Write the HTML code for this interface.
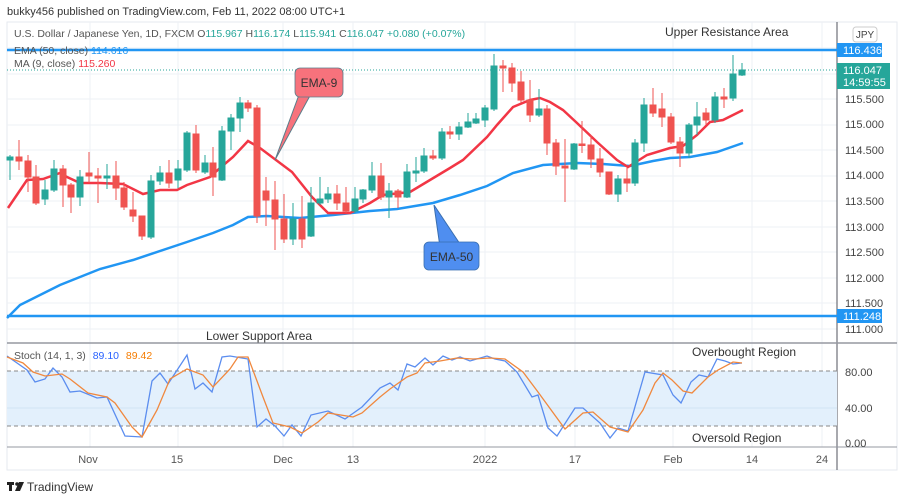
<!DOCTYPE html>
<html><head><meta charset="utf-8"><style>
html,body{margin:0;padding:0;background:#fff;width:900px;height:500px;overflow:hidden}
svg{display:block;font-family:"Liberation Sans",sans-serif}
</style></head><body>
<svg width="900" height="500" viewBox="0 0 900 500" xmlns="http://www.w3.org/2000/svg">
<rect width="900" height="500" fill="#fff"/>
<text x="7" y="15" font-size="11" fill="#333">bukky456 published on TradingView.com, Feb 11, 2022 08:00 UTC+1</text>
<rect x="7" y="22" width="890" height="448" fill="none" stroke="#e6e9ef"/>
<g stroke="#eef1f6" stroke-width="1">
<line x1="7" x2="837" y1="48" y2="48"/><line x1="7" x2="837" y1="74" y2="74"/><line x1="7" x2="837" y1="99" y2="99"/><line x1="7" x2="837" y1="125" y2="125"/><line x1="7" x2="837" y1="150" y2="150"/><line x1="7" x2="837" y1="176" y2="176"/><line x1="7" x2="837" y1="201" y2="201"/><line x1="7" x2="837" y1="227" y2="227"/><line x1="7" x2="837" y1="252" y2="252"/><line x1="7" x2="837" y1="278" y2="278"/><line x1="7" x2="837" y1="303" y2="303"/><line x1="7" x2="837" y1="329" y2="329"/>
<line x1="90" x2="90" y1="22" y2="447"/><line x1="178" x2="178" y1="22" y2="447"/><line x1="283" x2="283" y1="22" y2="447"/><line x1="353" x2="353" y1="22" y2="447"/><line x1="485" x2="485" y1="22" y2="447"/><line x1="575" x2="575" y1="22" y2="447"/><line x1="673" x2="673" y1="22" y2="447"/><line x1="752" x2="752" y1="22" y2="447"/><line x1="822" x2="822" y1="22" y2="447"/>
</g>
<line x1="837" x2="837" y1="22" y2="470" stroke="#50535e" stroke-width="1"/>
<line x1="7" x2="897" y1="343" y2="343" stroke="#9598a1" stroke-width="1.5"/>
<line x1="7" x2="897" y1="447" y2="447" stroke="#9598a1" stroke-width="1"/>
<rect x="7" y="371" width="830" height="55" fill="#e3f0fc"/>
<line x1="7" x2="837" y1="408" y2="408" stroke="#d0e3f5"/>
<line x1="7" x2="837" y1="371" y2="371" stroke="#888" stroke-dasharray="4,3"/>
<line x1="7" x2="837" y1="426" y2="426" stroke="#888" stroke-dasharray="4,3"/>
<line x1="7" x2="837" y1="70" y2="70" stroke="#26a69a" stroke-dasharray="1,2"/>
<line x1="7" x2="837" y1="50" y2="50" stroke="#2196f3" stroke-width="2.5"/>
<line x1="7" x2="837" y1="316" y2="316" stroke="#2196f3" stroke-width="2.5"/>
<polyline fill="none" stroke="#2196f3" stroke-width="2.5" points="7,318 20,305 60,285 100,269 133,260 187,242 213,233 233,225 248,217 267,216 300,218 333,215 370,211 397,209 433,203 460,195 487,186 513,173 543,165 577,163 603,164 630,166 653,161 670,158 690,157 717,152 743,143"/>
<polyline fill="none" stroke="#f23645" stroke-width="2.5" points="8,208 27,180 43,179 60,173 67,177 80,183 100,183 123,184 143,194 160,190 177,190 187,185 210,177 220,168 233,157 248,141 260,148 292,172 312,197 328,213 350,213 370,203 383,195 410,192 430,180 450,168 463,160 487,137 497,125 513,107 530,100 540,98 550,102 563,110 577,123 597,142 617,160 628,167 647,155 670,148 683,146 697,135 710,122 723,120 743,110"/>
<g stroke-width="1">
<g stroke="#26a69a" fill="#26a69a">
<line x1="10" x2="10" y1="155" y2="180"/><rect x="7" y="157" width="6" height="3"/>
<line x1="45" x2="45" y1="180" y2="205"/><rect x="42" y="190" width="6" height="9"/>
<line x1="54" x2="54" y1="160" y2="192"/><rect x="51" y="169" width="6" height="21"/>
<line x1="80" x2="80" y1="170" y2="206"/><rect x="77" y="177" width="6" height="20"/>
<line x1="107" x2="107" y1="164" y2="189"/><rect x="104" y="176" width="6" height="2"/>
<line x1="151" x2="151" y1="175" y2="239"/><rect x="148" y="181" width="6" height="56"/>
<line x1="160" x2="160" y1="166" y2="185"/><rect x="157" y="173" width="6" height="8"/>
<line x1="178" x2="178" y1="160" y2="188"/><rect x="175" y="169" width="6" height="11"/>
<line x1="187" x2="187" y1="131" y2="172"/><rect x="184" y="133" width="6" height="37"/>
<line x1="205" x2="205" y1="155" y2="174"/><rect x="202" y="163" width="6" height="9"/>
<line x1="222" x2="222" y1="126" y2="181"/><rect x="219" y="131" width="6" height="49"/>
<line x1="231" x2="231" y1="114" y2="150"/><rect x="228" y="118" width="6" height="13"/>
<line x1="240" x2="240" y1="97" y2="132"/><rect x="237" y="103" width="6" height="15"/>
<line x1="293" x2="293" y1="203" y2="245"/><rect x="290" y="219" width="6" height="20"/>
<line x1="311" x2="311" y1="187" y2="237"/><rect x="308" y="203" width="6" height="33"/>
<line x1="320" x2="320" y1="177" y2="205"/><rect x="317" y="199" width="6" height="4"/>
<line x1="328" x2="328" y1="187" y2="203"/><rect x="325" y="194" width="6" height="5"/>
<line x1="355" x2="355" y1="187" y2="213"/><rect x="352" y="199" width="6" height="12"/>
<line x1="363" x2="363" y1="189" y2="203"/><rect x="360" y="190" width="6" height="9"/>
<line x1="372" x2="372" y1="162" y2="193"/><rect x="369" y="176" width="6" height="14"/>
<line x1="389" x2="389" y1="183" y2="218"/><rect x="386" y="191" width="6" height="6"/>
<line x1="407" x2="407" y1="164" y2="198"/><rect x="404" y="172" width="6" height="25"/>
<line x1="416" x2="416" y1="157" y2="182"/><rect x="413" y="171" width="6" height="2"/>
<line x1="424" x2="424" y1="148" y2="173"/><rect x="421" y="156" width="6" height="15"/>
<line x1="442" x2="442" y1="128" y2="160"/><rect x="439" y="132" width="6" height="26"/>
<line x1="459" x2="459" y1="122" y2="140"/><rect x="456" y="127" width="6" height="7"/>
<line x1="468" x2="468" y1="113" y2="128"/><rect x="465" y="122" width="6" height="5"/>
<line x1="476" x2="476" y1="113" y2="124"/><rect x="473" y="119" width="6" height="4"/>
<line x1="485" x2="485" y1="105" y2="127"/><rect x="482" y="108" width="6" height="12"/>
<line x1="494" x2="494" y1="54" y2="111"/><rect x="491" y="66" width="6" height="43"/>
<line x1="539" x2="539" y1="89" y2="117"/><rect x="536" y="109" width="6" height="6"/>
<line x1="574" x2="574" y1="143" y2="170"/><rect x="571" y="144" width="6" height="25"/>
<line x1="618" x2="618" y1="175" y2="202"/><rect x="615" y="179" width="6" height="15"/>
<line x1="635" x2="635" y1="139" y2="186"/><rect x="632" y="143" width="6" height="40"/>
<line x1="644" x2="644" y1="98" y2="152"/><rect x="641" y="105" width="6" height="38"/>
<line x1="689" x2="689" y1="123" y2="158"/><rect x="686" y="125" width="6" height="28"/>
<line x1="697" x2="697" y1="102" y2="135"/><rect x="694" y="117" width="6" height="8"/>
<line x1="715" x2="715" y1="92" y2="123"/><rect x="712" y="97" width="6" height="23"/>
<line x1="733" x2="733" y1="55" y2="101"/><rect x="730" y="74" width="6" height="24"/>
<line x1="742" x2="742" y1="63" y2="76"/><rect x="739" y="70" width="6" height="5"/>
</g>
<g stroke="#ef5350" fill="#ef5350">
<line x1="19" x2="19" y1="140" y2="170"/><rect x="16" y="157" width="6" height="4"/>
<line x1="28" x2="28" y1="155" y2="192"/><rect x="25" y="161" width="6" height="16"/>
<line x1="36" x2="36" y1="165" y2="205"/><rect x="33" y="177" width="6" height="26"/>
<line x1="63" x2="63" y1="165" y2="207"/><rect x="60" y="169" width="6" height="16"/>
<line x1="71" x2="71" y1="183" y2="213"/><rect x="68" y="185" width="6" height="12"/>
<line x1="89" x2="89" y1="152" y2="183"/><rect x="86" y="173" width="6" height="3"/>
<line x1="98" x2="98" y1="168" y2="203"/><rect x="95" y="176" width="6" height="2"/>
<line x1="116" x2="116" y1="161" y2="200"/><rect x="113" y="176" width="6" height="12"/>
<line x1="124" x2="124" y1="182" y2="210"/><rect x="121" y="188" width="6" height="19"/>
<line x1="133" x2="133" y1="192" y2="222"/><rect x="130" y="210" width="6" height="6"/>
<line x1="142" x2="142" y1="216" y2="240"/><rect x="139" y="216" width="6" height="20"/>
<line x1="169" x2="169" y1="160" y2="188"/><rect x="166" y="173" width="6" height="10"/>
<line x1="196" x2="196" y1="125" y2="173"/><rect x="193" y="134" width="6" height="36"/>
<line x1="213" x2="213" y1="147" y2="196"/><rect x="210" y="163" width="6" height="14"/>
<line x1="248" x2="248" y1="100" y2="112"/><rect x="245" y="103" width="6" height="5"/>
<line x1="257" x2="257" y1="105" y2="223"/><rect x="254" y="108" width="6" height="108"/>
<line x1="266" x2="266" y1="177" y2="226"/><rect x="263" y="191" width="6" height="9"/>
<line x1="275" x2="275" y1="181" y2="250"/><rect x="272" y="200" width="6" height="19"/>
<line x1="284" x2="284" y1="194" y2="243"/><rect x="281" y="219" width="6" height="20"/>
<line x1="302" x2="302" y1="196" y2="248"/><rect x="299" y="219" width="6" height="20"/>
<line x1="337" x2="337" y1="185" y2="210"/><rect x="334" y="194" width="6" height="9"/>
<line x1="346" x2="346" y1="187" y2="213"/><rect x="343" y="203" width="6" height="8"/>
<line x1="381" x2="381" y1="163" y2="200"/><rect x="378" y="176" width="6" height="21"/>
<line x1="398" x2="398" y1="189" y2="208"/><rect x="395" y="191" width="6" height="6"/>
<line x1="433" x2="433" y1="150" y2="160"/><rect x="430" y="156" width="6" height="2"/>
<line x1="450" x2="450" y1="126" y2="139"/><rect x="447" y="132" width="6" height="2"/>
<line x1="503" x2="503" y1="60" y2="92"/><rect x="500" y="66" width="6" height="2"/>
<line x1="512" x2="512" y1="63" y2="92"/><rect x="509" y="68" width="6" height="15"/>
<line x1="521" x2="521" y1="71" y2="103"/><rect x="518" y="82" width="6" height="18"/>
<line x1="530" x2="530" y1="80" y2="122"/><rect x="527" y="100" width="6" height="15"/>
<line x1="547" x2="547" y1="105" y2="155"/><rect x="544" y="109" width="6" height="34"/>
<line x1="556" x2="556" y1="139" y2="175"/><rect x="553" y="143" width="6" height="23"/>
<line x1="565" x2="565" y1="139" y2="202"/><rect x="562" y="166" width="6" height="2"/>
<line x1="582" x2="582" y1="121" y2="153"/><rect x="579" y="144" width="6" height="1.5"/>
<line x1="591" x2="591" y1="135" y2="168"/><rect x="588" y="145" width="6" height="14"/>
<line x1="600" x2="600" y1="148" y2="177"/><rect x="597" y="159" width="6" height="13"/>
<line x1="609" x2="609" y1="172" y2="195"/><rect x="606" y="172" width="6" height="22"/>
<line x1="627" x2="627" y1="168" y2="192"/><rect x="624" y="179" width="6" height="4"/>
<line x1="653" x2="653" y1="88" y2="117"/><rect x="650" y="105" width="6" height="8"/>
<line x1="662" x2="662" y1="93" y2="127"/><rect x="659" y="109" width="6" height="8"/>
<line x1="671" x2="671" y1="113" y2="144"/><rect x="668" y="117" width="6" height="25"/>
<line x1="680" x2="680" y1="137" y2="167"/><rect x="677" y="142" width="6" height="11"/>
<line x1="706" x2="706" y1="108" y2="125"/><rect x="703" y="113" width="6" height="7"/>
<line x1="724" x2="724" y1="88" y2="108"/><rect x="721" y="97" width="6" height="2"/>
</g>
</g>
<path d="M300,92 L275,160 L312,92 Z" fill="#f7727c" stroke="#5a7d8a" stroke-width="1"/>
<rect x="295" y="68" width="48" height="29" rx="5" fill="#f7727c" stroke="#5a7d8a" stroke-width="0.8"/>
<text x="319" y="87" font-size="12" fill="#333" text-anchor="middle">EMA-9</text>
<path d="M440,247 L434,205 L462,247 Z" fill="#4f8ef0" stroke="#3a6fb0" stroke-width="1"/>
<rect x="424" y="242" width="55" height="28" rx="5" fill="#4f8ef0" stroke="#3a6fb0" stroke-width="0.8"/>
<text x="451.5" y="261" font-size="12" fill="#333" text-anchor="middle">EMA-50</text>
<text x="14" y="37" font-size="10.5" fill="#555">U.S. Dollar / Japanese Yen, 1D, FXCM O<tspan fill="#26a69a">115.967</tspan> H<tspan fill="#26a69a">116.174</tspan> L<tspan fill="#26a69a">115.941</tspan> C<tspan fill="#26a69a">116.047</tspan> <tspan fill="#26a69a">+0.080 (+0.07%)</tspan></text>
<text x="14" y="54" font-size="10.5" fill="#555">EMA (50, close) <tspan fill="#2196f3">114.616</tspan></text>
<text x="14" y="67" font-size="10.5" fill="#555">MA (9, close) <tspan fill="#f23645">115.260</tspan></text>
<text x="665" y="36" font-size="12" fill="#333">Upper Resistance Area</text>
<text x="206" y="340" font-size="12" fill="#333">Lower Support Area</text>
<polyline fill="none" stroke="#5b8def" stroke-width="1.3" points="7,356 27,370 35,382 45,379 53,368 62,377 70,392 80,391 97,398 107,397 125,436 142,437 152,381 160,373 168,384 187,355 195,389 203,383 212,392 222,357 230,356 248,359 257,427 266,419 275,426 284,436 292,425 301,436 311,415 328,411 345,419 362,407 380,388 390,383 398,390 407,364 415,367 425,358 433,365 443,356 452,360 460,357 470,361 487,356 495,359 505,361 517,372 532,397 538,395 548,428 557,436 575,408 583,408 600,423 610,438 618,428 628,431 645,372 663,375 673,395 681,403 691,382 699,375 708,377 717,359 725,361 733,364 742,363"/>
<polyline fill="none" stroke="#f0883e" stroke-width="1.3" points="7,357 23,363 33,372 45,376 62,374 70,379 88,393 107,397 115,403 132,427 142,437 157,410 170,379 187,369 203,375 213,387 230,369 238,357 248,357 263,397 273,423 290,427 302,433 318,422 328,413 353,417 362,413 380,397 390,389 407,377 417,373 425,363 440,361 457,358 473,359 490,358 505,359 523,372 538,392 565,429 583,413 593,412 610,427 628,432 643,410 655,383 663,373 672,380 683,391 692,393 708,377 718,370 733,362 742,363"/>
<text x="14" y="359" font-size="10.5" fill="#555">Stoch (14, 1, 3) <tspan fill="#2962ff" dx="4">89.10</tspan> <tspan fill="#f57c00" dx="4">89.42</tspan></text>
<text x="692" y="356" font-size="12" fill="#333">Overbought Region</text>
<text x="692" y="442" font-size="12" fill="#333">Oversold Region</text>
<g font-size="11" fill="#444">
<rect x="853" y="27" width="24" height="15" rx="3" fill="#fff" stroke="#ccc"/>
<text x="865" y="38" text-anchor="middle" font-size="10">JPY</text>
<text x="845" y="103">115.500</text><text x="845" y="128">115.000</text><text x="845" y="154">114.500</text><text x="845" y="179">114.000</text><text x="845" y="205">113.500</text><text x="845" y="231">113.000</text><text x="845" y="256">112.500</text><text x="845" y="282">112.000</text><text x="845" y="307">111.500</text><text x="845" y="333">111.000</text>
<text x="845" y="376">80.00</text><text x="845" y="412">40.00</text><text x="845" y="447">0.00</text>
</g>
<rect x="837" y="43" width="45" height="14" fill="#2196f3"/>
<text x="843" y="54" font-size="11" fill="#fff">116.436</text>
<rect x="837" y="63" width="53" height="26" fill="#26a69a"/>
<text x="843" y="74" font-size="11" fill="#fff">116.047</text>
<text x="843" y="86" font-size="11" fill="#fff">14:59:55</text>
<rect x="837" y="309" width="45" height="14" fill="#2196f3"/>
<text x="843" y="320" font-size="11" fill="#fff">111.248</text>
<g font-size="11" fill="#555" text-anchor="middle">
<text x="88" y="463">Nov</text><text x="177" y="463">15</text><text x="283" y="463">Dec</text><text x="353" y="463">13</text><text x="485" y="463">2022</text><text x="575" y="463">17</text><text x="673" y="463">Feb</text><text x="752" y="463">14</text><text x="822" y="463">24</text>
</g>
<rect x="7" y="482" width="7" height="3" fill="#222"/><rect x="9" y="482" width="3" height="9" fill="#222"/><circle cx="17" cy="484" r="1.8" fill="#222"/><path d="M19,482 L24,482 L20,491 L15,491 Z" fill="#222"/>
<text x="27" y="491" font-size="12" fill="#333">TradingView</text>
</svg>
</body></html>
